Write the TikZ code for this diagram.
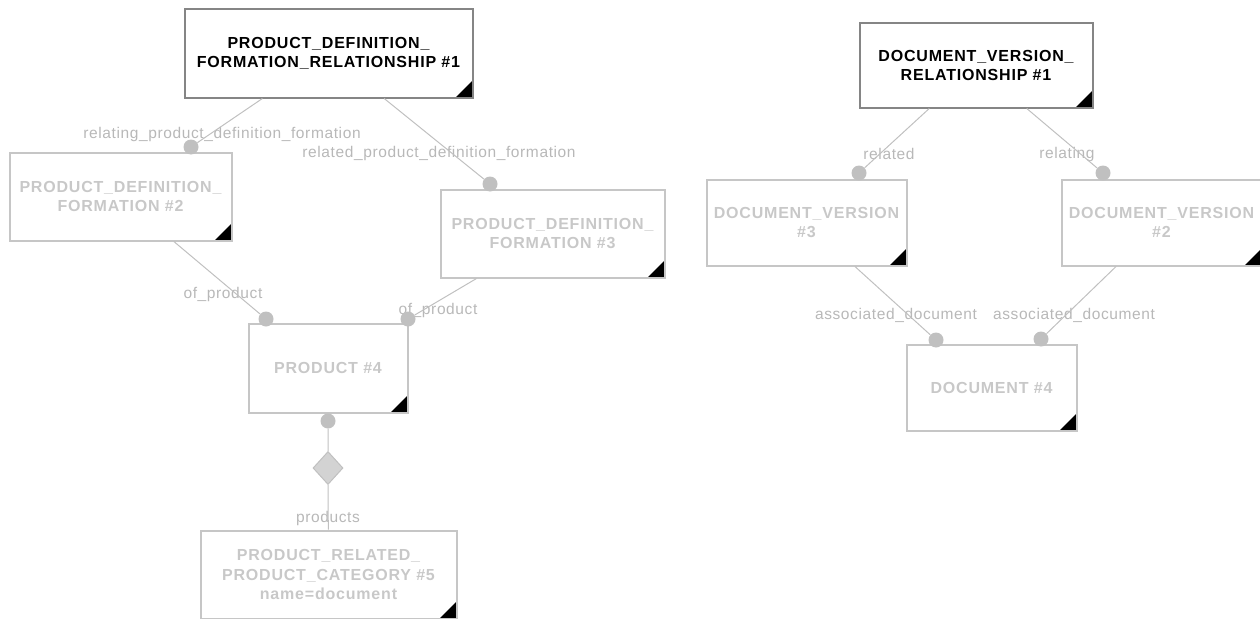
\documentclass[tikz,border=0pt]{standalone}
\usepackage{fontspec}
\setmainfont{Liberation Sans}
\newfontfamily\entfont[LetterSpace=5]{Liberation Sans}
\newfontfamily\attfont[LetterSpace=4]{Liberation Sans}
\usetikzlibrary{shapes.geometric}
\definecolor{edgegray}{HTML}{C0C0C0}
\definecolor{boxgray}{HTML}{C6C6C6}
\definecolor{textgray}{HTML}{C8C8C8}
\definecolor{labelgray}{HTML}{B8B8B8}
\definecolor{rootgray}{HTML}{858585}
\tikzset{
  entity/.style={rectangle,draw=boxgray,line width=2pt,align=center,text=textgray,inner sep=0pt,
    font=\entfont\bfseries\fontsize{16}{18.5}\selectfont,
    path picture={\fill[black] (path picture bounding box.south east) -- ++(-17,0) -- ++(17,-17) -- cycle;}},
  root/.style={entity,draw=rootgray,text=black},
  dot/.style={circle,fill=edgegray,inner sep=0pt,minimum size=15pt},
  agg/.style={diamond,draw=edgegray,fill=edgegray!70,line width=1pt,inner sep=0pt,minimum width=30pt,minimum height=33pt},
  link/.style={draw=edgegray,line width=1pt},
  attr/.style={text=labelgray,inner sep=0pt,font=\attfont\fontsize{15.5}{18}\selectfont}
}
\begin{document}
\begin{tikzpicture}[x=1pt,y=-1pt]
\useasboundingbox (0,0) rectangle (1260,618);
% product side
\node[root,minimum width=288pt,minimum height=88pt] (pdfr) at (328.5,53.5) {PRODUCT\_DEFINITION\_\\FORMATION\_RELATIONSHIP \#1};
\node[entity,minimum width=222pt,minimum height=88pt] (pdf2) at (120.5,196.5) {PRODUCT\_DEFINITION\_\\FORMATION \#2};
\node[entity,minimum width=224pt,minimum height=88pt] (pdf3) at (552.5,233.5) {PRODUCT\_DEFINITION\_\\FORMATION \#3};
\node[entity,minimum width=159pt,minimum height=89pt] (prod) at (328,368) {PRODUCT \#4};
\node[entity,minimum width=256pt,minimum height=88pt,font=\entfont\bfseries\fontsize{16}{19.5}\selectfont] (prpc) at (328.5,574.5) {PRODUCT\_RELATED\_\\PRODUCT\_CATEGORY \#5\\name=document};
\node[attr] (relating) at (222,134) {relating\_product\_definition\_formation};
\node[attr] (related) at (439,153) {related\_product\_definition\_formation};
\node[attr] (ofprod1) at (223,294) {of\_product};
\node[attr] (ofprod2) at (438,310) {of\_product};
\node[attr] (products) at (328,518) {products};
\node[dot] (pdf2top) at (191,147) {};
\node[dot] (pdf3top) at (490,184) {};
\node[dot] (prodleft) at (266,319) {};
\node[dot] (prodright) at (408,319) {};
\node[dot] (prodbot) at (328,421) {};
\node[agg] (prodagg) at (328,468) {};
\draw[link] (pdf2top) -- (pdfr);
\draw[link] (pdf3top) -- (pdfr);
\draw[link] (prodleft) -- (pdf2);
\draw[link] (prodright) -- (pdf3);
\draw[link] (prodbot) -- (prodagg) -- (prpc);
% document side
\node[root,minimum width=233pt,minimum height=84pt] (dvr) at (976,65.5) {DOCUMENT\_VERSION\_\\RELATIONSHIP \#1};
\node[entity,minimum width=200pt,minimum height=86pt] (dv3) at (806.5,222.5) {DOCUMENT\_VERSION\\\#3};
\node[entity,minimum width=200pt,minimum height=86pt] (dv2) at (1161.5,222.5) {DOCUMENT\_VERSION\\\#2};
\node[entity,minimum width=170pt,minimum height=86pt] (doc) at (991.5,387.5) {DOCUMENT \#4};
\node[attr] (relatedlbl) at (889,154) {related};
\node[attr] (relatinglbl) at (1067,154) {relating};
\node[attr] (assoc1) at (896,315) {associated\_document};
\node[attr] (assoc2) at (1074,315) {associated\_document};
\node[dot] (dv3top) at (859,173) {};
\node[dot] (dv2top) at (1103,173) {};
\node[dot] (docleft) at (936,340) {};
\node[dot] (docright) at (1041,339) {};
\draw[link] (dv3top) -- (dvr);
\draw[link] (dv2top) -- (dvr);
\draw[link] (docleft) -- (dv3);
\draw[link] (docright) -- (dv2);
\end{tikzpicture}
\end{document}
